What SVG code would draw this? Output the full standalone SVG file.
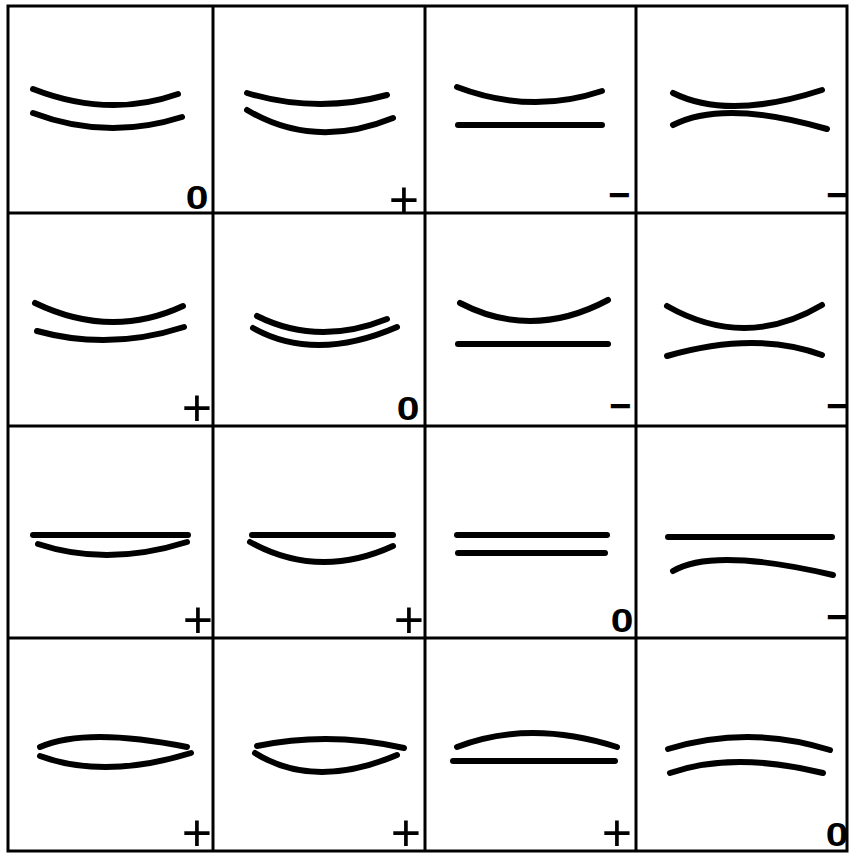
<svg xmlns="http://www.w3.org/2000/svg" width="850" height="854" viewBox="0 0 850 854">
<style>
.grid{fill:none;stroke:#000;stroke-width:3}
.c{fill:none;stroke:#000;stroke-width:6;stroke-linecap:round}
.p{font-family:"Liberation Sans",Arial,sans-serif;font-size:52px;text-anchor:middle;fill:#000}
.m{font-family:"Liberation Sans",Arial,sans-serif;font-size:38px;font-weight:bold;text-anchor:middle;fill:#000}
.z{font-family:"Liberation Sans",Arial,sans-serif;font-size:34px;font-weight:bold;text-anchor:middle;fill:#000}
</style>
<rect width="850" height="854" fill="#fff"/>
<g id="grid">
<rect class="grid" x="8" y="6" width="839" height="845"/>
<line class="grid" x1="213" y1="6" x2="213" y2="851"/>
<line class="grid" x1="425" y1="6" x2="425" y2="851"/>
<line class="grid" x1="636" y1="6" x2="636" y2="851"/>
<line class="grid" x1="8" y1="213" x2="847" y2="213"/>
<line class="grid" x1="8" y1="426" x2="847" y2="426"/>
<line class="grid" x1="8" y1="638" x2="847" y2="638"/>
</g>
<g id="r1c1">
<path class="c" d="M33,89 Q108.5,118.5 178,94"/>
<path class="c" d="M33,113 Q106.5,141 182,117"/>
<text class="z" transform="translate(197,209) scale(1.2,1)">0</text>
</g>
<g id="r1c2">
<path class="c" d="M247,93 Q317,114 387,95"/>
<path class="c" d="M247,110 Q314,150 393,118"/>
<text class="p" x="404" y="218">+</text>
</g>
<g id="r1c3">
<path class="c" d="M457,87 Q530.5,115 602,91"/>
<path class="c" d="M458,125 L602,125"/>
<text class="m" x="619" y="208">−</text>
</g>
<g id="r1c4">
<path class="c" d="M673,93 Q728.5,120.5 822,90"/>
<path class="c" d="M673,125 Q724,99 827,129"/>
<text class="m" x="837" y="208">−</text>
</g>
<g id="r2c1">
<path class="c" d="M35,303 Q111,339.5 183,306"/>
<path class="c" d="M37,331 Q109.5,351 184,327"/>
<text class="p" x="197" y="426">+</text>
</g>
<g id="r2c2">
<path class="c" d="M257,316 Q318,346.5 387,319"/>
<path class="c" d="M253,328 Q315,362.5 397,327"/>
<text class="z" transform="translate(408,420) scale(1.2,1)">0</text>
</g>
<g id="r2c3">
<path class="c" d="M460,303 Q532,340.5 608,300"/>
<path class="c" d="M458,344 L608,344"/>
<text class="m" x="620" y="419">−</text>
</g>
<g id="r2c4">
<path class="c" d="M667,306 Q745.5,350.5 822,305"/>
<path class="c" d="M667,356 Q755.5,330.5 822,355"/>
<text class="m" x="837" y="419">−</text>
</g>
<g id="r3c1">
<path class="c" d="M33,535 L188,535"/>
<path class="c" d="M38,544 Q107.5,567 187,542"/>
<text class="p" x="198" y="638">+</text>
</g>
<g id="r3c2">
<path class="c" d="M252,535 L393,535"/>
<path class="c" d="M250,542 Q318.5,580 393,546"/>
<text class="p" x="409" y="638">+</text>
</g>
<g id="r3c3">
<path class="c" d="M457,535 L607,535"/>
<path class="c" d="M458,553 L605,553"/>
<text class="z" transform="translate(622,632) scale(1.2,1)">0</text>
</g>
<g id="r3c4">
<path class="c" d="M668,537 L832,537"/>
<path class="c" d="M673,571 Q713,547 833,575"/>
<text class="m" x="837" y="630">−</text>
</g>
<g id="r4c1">
<path class="c" d="M40,747 Q86.5,727 187,747"/>
<path class="c" d="M40,756 Q104.5,779.5 191,753"/>
<text class="p" x="197" y="851">+</text>
</g>
<g id="r4c2">
<path class="c" d="M257,746 Q329.5,731 404,748"/>
<path class="c" d="M255,753 Q314,790 397,755"/>
<text class="p" x="406" y="851">+</text>
</g>
<g id="r4c3">
<path class="c" d="M457,747 Q529,719 617,747"/>
<path class="c" d="M453,761 L615,761"/>
<text class="p" x="617" y="851">+</text>
</g>
<g id="r4c4">
<path class="c" d="M668,749 Q749,724.5 830,750"/>
<path class="c" d="M670,773 Q733.5,751 823,773"/>
<text class="z" transform="translate(837,846) scale(1.2,1)">0</text>
</g>
</svg>
